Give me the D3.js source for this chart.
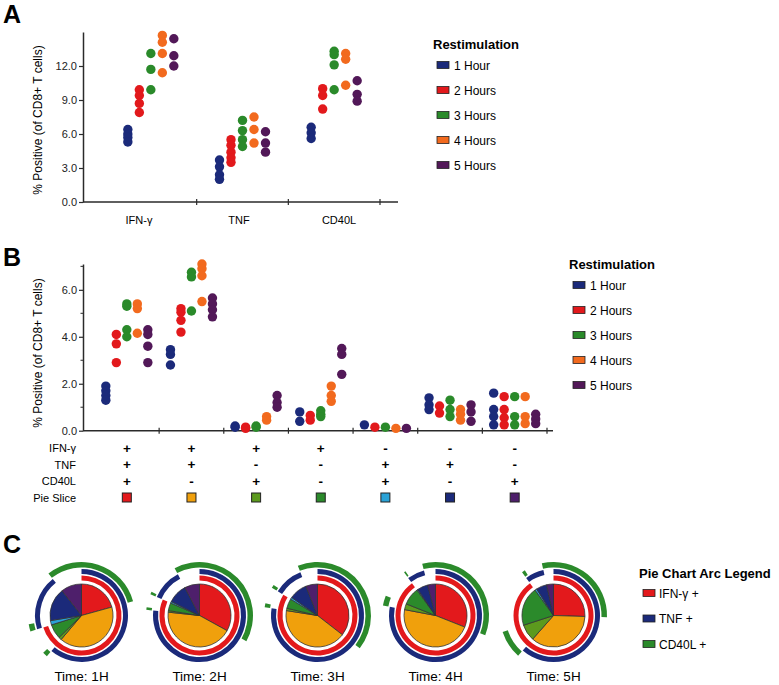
<!DOCTYPE html>
<html>
<head>
<meta charset="utf-8">
<script src="https://cdn.jsdelivr.net/npm/d3@7"></script>
<style>
  body { margin: 0; background: #fff; }
  svg { font-family: "Liberation Sans", Arial, Helvetica, sans-serif; }
</style>
</head>
<body>
<div id="container"></div>
<script>
/* CONSTANTS AND DATA */
const width = 779, height = 685;

const times = ["1 Hour", "2 Hours", "3 Hours", "4 Hours", "5 Hours"];
const timeColors = ["#1b2a7a", "#e2191c", "#2a8a2a", "#f26a1e", "#521858"];

// panel A: replicates per restimulation time
const markersA = ["IFN-γ", "TNF", "CD40L"];
const aIFNg = [[6.4, 6.0, 5.7, 5.3], [9.9, 9.4, 8.7, 7.9], [13.1, 11.7, 9.9], [14.7, 14.1, 13.1, 11.4], [14.4, 12.9, 12.0]];
const aTNF = [[3.7, 3.1, 2.4, 2.0], [5.5, 5.0, 4.4, 3.9, 3.5], [7.2, 6.3, 5.5, 4.9], [7.5, 6.4, 5.2], [6.2, 5.2, 4.4]];
const aCD40L = [[6.6, 6.1, 5.6], [10.0, 9.4, 8.2], [13.3, 13.0, 12.1, 9.9], [13.1, 12.6, 10.3], [10.7, 9.5, 8.9]];
const aTicks = [0, 3, 6, 9, 12];

// panel B: boolean combinations
const groupsB = ["+++", "++-", "+-+", "+--", "-++", "-+-", "--+"];
const bPPP = [[1.9, 1.7, 1.5, 1.3], [4.1, 3.7, 2.9], [5.4, 5.3, 4.3, 4.0], [5.4, 5.2, 4.15], [4.3, 4.1, 3.6, 2.9]];
const bPPM = [[3.45, 3.25, 2.8], [5.2, 5.05, 4.7, 4.2], [6.75, 6.55, 5.1], [7.1, 6.9, 6.6, 5.5], [5.65, 5.4, 5.15, 4.85]];
const bPMP = [[0.2, 0.15], [0.15, 0.1], [0.2, 0.15], [0.6, 0.45], [1.5, 1.2, 1.0]];
const bPMM = [[0.8, 0.4], [0.65, 0.45], [0.85, 0.7, 0.6], [1.9, 1.5, 1.25], [3.5, 3.25, 2.4]];
const bMPP = [[0.25], [0.15], [0.15], [0.1], [0.1]];
const bMPM = [[1.4, 1.1, 0.9], [1.05, 0.75], [1.3, 0.9, 0.6], [0.9, 0.7, 0.45], [1.1, 0.8, 0.4]];
const bMMP = [[1.6, 0.9, 0.6, 0.25], [1.45, 0.9, 0.55, 0.25], [1.45, 0.6, 0.25], [1.45, 0.6, 0.3], [0.7, 0.5, 0.3]];
const bTicks = [0, 2, 4, 6];
const bMinorTicks = [1, 3, 5, 7];

// table under panel B
const rowLabels = ["IFN-γ", "TNF", "CD40L", "Pie Slice"];
const ifnSigns = ["+", "+", "+", "+", "-", "-", "-"];
const tnfSigns = ["+", "+", "-", "-", "+", "+", "-"];
const cd40Signs = ["+", "-", "+", "-", "+", "-", "+"];
const sliceColors = ["#e3191c", "#f0a00c", "#5c9a1e", "#2b8a2b", "#2aa2d6", "#1b2a7a", "#4e1f6b"];

// panel C: pie fractions per time
const pieTimes = ["1H", "2H", "3H", "4H", "5H"];
const pie1H = [0.207, 0.405, 0.015, 0.075, 0.022, 0.17, 0.106];
const pie2H = [0.33, 0.437, 0.008, 0.04, 0.008, 0.1, 0.077];
const pie3H = [0.355, 0.42, 0.012, 0.05, 0.01, 0.093, 0.06];
const pie4H = [0.31, 0.47, 0.03, 0.09, 0.005, 0.055, 0.04];
const pie5H = [0.255, 0.36, 0.085, 0.2, 0.01, 0.055, 0.035];
const arcLegend = ["IFN-γ +", "TNF +", "CD40L +"];
const arcColors = ["#e3191c", "#1b2a7a", "#2b8a2b"];

const axisColor = "#2a2a2a";

/* SVG */
const svg = d3.select("#container")
  .append("svg")
  .attr("width", width)
  .attr("height", height);

function panelLetter(letter, y) {
  svg.append("text")
    .attr("x", 3).attr("y", y)
    .attr("font-size", "25px").attr("font-weight", "bold")
    .text(letter);
}

function yTitle(cy) {
  svg.append("text")
    .attr("transform", `translate(41.5,${cy}) rotate(-90)`)
    .attr("text-anchor", "middle")
    .attr("font-size", "12px")
    .text("% Positive (of CD8+ T cells)");
}

function timeLegend(x, y) {
  const g = svg.append("g").attr("transform", `translate(${x},${y})`);
  g.append("text")
    .attr("font-size", "13px").attr("font-weight", "bold")
    .text("Restimulation");
  const items = g.selectAll("g.item")
    .data(times)
    .join("g")
    .attr("class", "item")
    .attr("transform", (d, i) => `translate(4,${16 + i * 25})`);
  items.append("rect")
    .attr("x", 0).attr("y", -3.5).attr("width", 12).attr("height", 7)
    .attr("fill", (d, i) => timeColors[i])
    .attr("stroke", "#222").attr("stroke-width", 0.8);
  items.append("text")
    .attr("x", 17).attr("y", 4.5)
    .attr("font-size", "12px")
    .text(d => d);
}

function yAxisDraw(scale, ticks, x) {
  const axis = d3.axisLeft(scale)
    .tickValues(ticks)
    .tickFormat(d3.format(".1f"))
    .tickSize(4)
    .tickSizeOuter(0);
  const g = svg.append("g")
    .attr("transform", `translate(${x},0)`)
    .call(axis);
  g.select(".domain").attr("stroke", axisColor).attr("stroke-width", 1.5);
  g.selectAll(".tick line").attr("stroke", axisColor).attr("stroke-width", 1.2);
  g.selectAll(".tick text").attr("font-size", "11px").attr("fill", "#222")
    .attr("font-family", "Liberation Sans, Arial, sans-serif").attr("x", -6);
  return g;
}

function xAxisDraw(xScale, y, x0, x1) {
  svg.append("line")
    .attr("x1", x0).attr("x2", x1).attr("y1", y).attr("y2", y)
    .attr("stroke", axisColor).attr("stroke-width", 1.5);
  svg.selectAll(null)
    .data(xScale.domain())
    .join("line")
    .attr("x1", d => xScale(d) + xScale.bandwidth())
    .attr("x2", d => xScale(d) + xScale.bandwidth())
    .attr("y1", y - 3).attr("y2", y + 3)
    .attr("stroke", axisColor).attr("stroke-width", 1.2);
}

/* PANEL A */
panelLetter("A", 22.5);
const xA = d3.scaleBand().domain(markersA).range([105, 380]);
const offA = d3.scalePoint().domain(times).range([-23, 23]);
const yA = d3.scaleLinear().domain([0, 15]).range([202, 32]);
// category labels sit on their own even spacing
const labA = d3.scalePoint().domain(markersA).range([139, 339]);

yAxisDraw(yA, aTicks, 83);
xAxisDraw(xA, 202, 83, 398);
yTitle(120);

svg.selectAll("text.xlabA")
  .data(markersA)
  .join("text")
  .attr("class", "xlabA")
  .attr("x", d => labA(d))
  .attr("y", 224)
  .attr("text-anchor", "middle")
  .attr("font-size", "11px")
  .text(d => d);

const seriesA = [aIFNg, aTNF, aCD40L];
const dotsA = [];
seriesA.forEach((arr, m) => arr.forEach((reps, t) => reps.forEach(v =>
  dotsA.push({ marker: markersA[m], time: times[t], t: t, value: v }))));

svg.append("g").selectAll("circle")
  .data(dotsA)
  .join("circle")
  .attr("cx", d => xA(d.marker) + xA.bandwidth() / 2 + offA(d.time))
  .attr("cy", d => yA(d.value))
  .attr("r", 4.7)
  .attr("fill", d => timeColors[d.t]);

timeLegend(433, 49);

/* PANEL B */
panelLetter("B", 266);
const xB = d3.scaleBand().domain(groupsB).range([94.5, 547]);
const offB = d3.scalePoint().domain(times).range([-21, 21]);
const yB = d3.scaleLinear().domain([0, 7.1]).range([430.7, 264]);

yAxisDraw(yB, bTicks, 83);
svg.append("g").selectAll("line")
  .data(bMinorTicks)
  .join("line")
  .attr("x1", 80.5).attr("x2", 83)
  .attr("y1", d => yB(d)).attr("y2", d => yB(d))
  .attr("stroke", axisColor).attr("stroke-width", 1);
xAxisDraw(xB, 430.7, 83, 553);
yTitle(353);

const seriesB = [bPPP, bPPM, bPMP, bPMM, bMPP, bMPM, bMMP];
const dotsB = [];
seriesB.forEach((arr, gi) => arr.forEach((reps, t) => reps.forEach(v =>
  dotsB.push({ group: groupsB[gi], time: times[t], t: t, value: v }))));

svg.append("g").selectAll("circle")
  .data(dotsB)
  .join("circle")
  .attr("cx", d => xB(d.group) + xB.bandwidth() / 2 + offB(d.time))
  .attr("cy", d => yB(d.value))
  .attr("r", 4.7)
  .attr("fill", d => timeColors[d.t]);

timeLegend(569, 269);

// table
const rowY = [448, 464.5, 481, 497.5];
svg.selectAll("text.rowlab")
  .data(rowLabels)
  .join("text")
  .attr("class", "rowlab")
  .attr("x", 76)
  .attr("y", (d, i) => rowY[i] + 4)
  .attr("text-anchor", "end")
  .attr("font-size", "11px")
  .text(d => d);

[ifnSigns, tnfSigns, cd40Signs].forEach((signs, r) => {
  svg.append("g").selectAll("text")
    .data(groupsB)
    .join("text")
    .attr("x", d => xB(d) + xB.bandwidth() / 2)
    .attr("y", rowY[r] + 4.5)
    .attr("text-anchor", "middle")
    .attr("font-size", "13.5px")
    .attr("font-weight", "bold")
    .text((d, i) => signs[i]);
});

svg.append("g").selectAll("rect")
  .data(groupsB)
  .join("rect")
  .attr("x", d => xB(d) + xB.bandwidth() / 2 - 4.5)
  .attr("y", rowY[3] - 4.5)
  .attr("width", 9).attr("height", 9)
  .attr("fill", (d, i) => sliceColors[i])
  .attr("stroke", "#222").attr("stroke-width", 1);

/* PANEL C */
panelLetter("C", 553);
const xC = d3.scalePoint().domain(pieTimes).range([81.5, 553.5]);
const pieCY = 615.5;
const pieR = 31.5;
const ringRadii = [[35, 40], [41.5, 46.5], [48, 53.5]];
const ringSigns = [ifnSigns, tnfSigns, cd40Signs];

const pie = d3.pie().sort(null).value(d => d);
const sliceArc = d3.arc().innerRadius(0).outerRadius(pieR);

// merge neighbouring positive slices into one arc run
function ringRuns(signs, arcs) {
  const runs = [];
  let cur = null;
  arcs.forEach((a, j) => {
    if (signs[j] === "+") {
      if (cur) cur.endAngle = a.endAngle;
      else { cur = { startAngle: a.startAngle, endAngle: a.endAngle }; runs.push(cur); }
    } else cur = null;
  });
  if (runs.length > 1 && signs[0] === "+" && signs[signs.length - 1] === "+") {
    const first = runs.shift();
    runs[runs.length - 1].endAngle = first.endAngle + 2 * Math.PI;
  }
  return runs;
}

[pie1H, pie2H, pie3H, pie4H, pie5H].forEach((fr, p) => {
  const g = svg.append("g")
    .attr("transform", `translate(${xC(pieTimes[p])},${pieCY})`);
  const arcs = pie(fr);

  ringSigns.forEach((signs, k) => {
    const ring = d3.arc().innerRadius(ringRadii[k][0]).outerRadius(ringRadii[k][1]);
    g.append("g").selectAll("path")
      .data(ringRuns(signs, arcs))
      .join("path")
      .attr("d", ring)
      .attr("fill", arcColors[k]);
  });

  g.append("g").selectAll("path")
    .data(arcs)
    .join("path")
    .attr("d", sliceArc)
    .attr("fill", (d, i) => sliceColors[i])
    .attr("stroke", "#333")
    .attr("stroke-width", 0.8)
    .attr("stroke-linejoin", "round");

  g.append("text")
    .attr("x", 0).attr("y", 681 - pieCY)
    .attr("text-anchor", "middle")
    .attr("font-size", "13.5px")
    .text("Time: " + pieTimes[p]);
});

// arc legend
const legC = svg.append("g").attr("transform", "translate(639,578)");
legC.append("text")
  .attr("font-size", "13px").attr("font-weight", "bold")
  .text("Pie Chart Arc Legend");
const itemsC = legC.selectAll("g.item")
  .data(arcLegend)
  .join("g")
  .attr("class", "item")
  .attr("transform", (d, i) => `translate(4,${15 + i * 25.5})`);
itemsC.append("rect")
  .attr("x", 0).attr("y", -3.5).attr("width", 12).attr("height", 7)
  .attr("fill", (d, i) => arcColors[i])
  .attr("stroke", "#222").attr("stroke-width", 0.8);
itemsC.append("text")
  .attr("x", 16).attr("y", 4.5)
  .attr("font-size", "12px")
  .text(d => d);
</script>
</body>
</html>
